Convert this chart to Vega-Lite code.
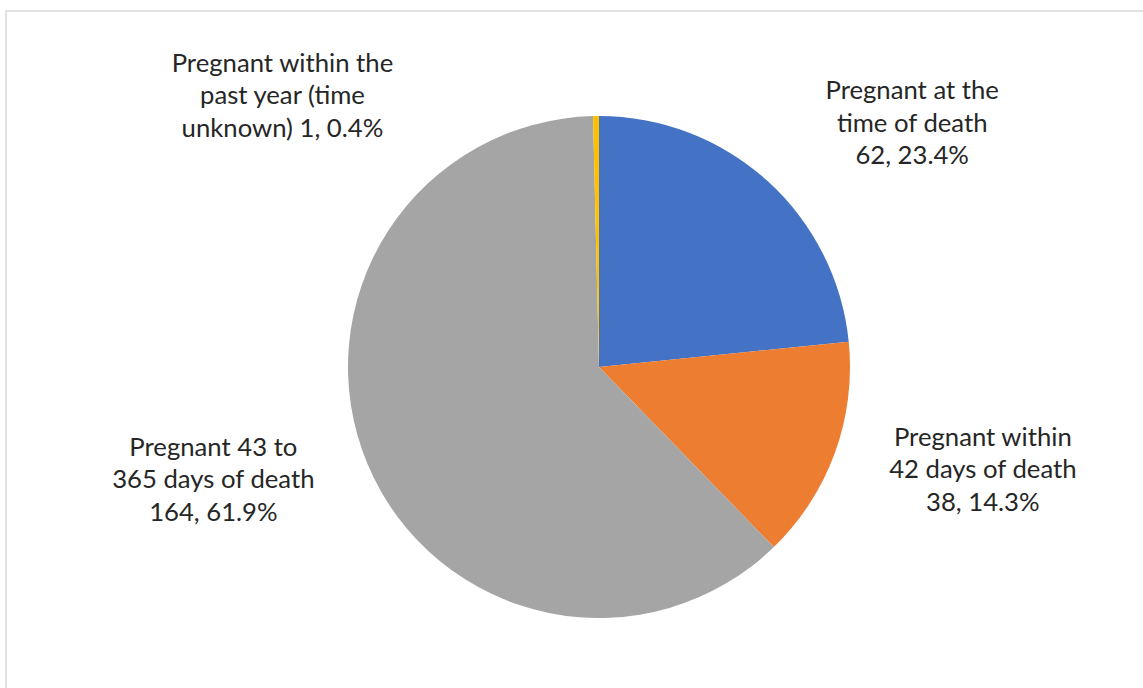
{
  "$schema": "https://vega.github.io/schema/vega-lite/v6.json",
  "width": 1186,
  "height": 712,
  "autosize": {"type": "none"},
  "padding": {"left": 6, "top": 11, "right": 0, "bottom": 0},
  "background": "white",
  "config": {"view": {"stroke": null}},
  "data": {
    "values": [
      {"cat": "Pregnant at the time of death", "count": 62, "pct": 23.4, "order": 1, "label": "Pregnant at the\ntime of death\n62, 23.4%"},
      {"cat": "Pregnant within 42 days of death", "count": 38, "pct": 14.3, "order": 2, "label": "Pregnant within\n42 days of death\n38, 14.3%"},
      {"cat": "Pregnant 43 to 365 days of death", "count": 164, "pct": 61.9, "order": 3, "label": "Pregnant 43 to\n365 days of death\n164, 61.9%"},
      {"cat": "Pregnant within the past year (time unknown)", "count": 1, "pct": 0.4, "order": 4, "label": "Pregnant within the\npast year (time\nunknown) 1, 0.4%"}
    ]
  },
  "layer": [
    {
      "data": {"values": [{"frame": 1}]},
      "mark": {"type": "rect", "filled": false, "stroke": "#D9D9D9", "strokeWidth": 1.5},
      "encoding": {}
    },
    {
      "mark": {"type": "arc", "outerRadius": 251, "stroke": null},
      "encoding": {
        "theta": {"field": "count", "type": "quantitative", "stack": true},
        "order": {"field": "order", "type": "quantitative"},
        "color": {
          "field": "cat",
          "type": "nominal",
          "scale": {
            "domain": ["Pregnant at the time of death", "Pregnant within 42 days of death", "Pregnant 43 to 365 days of death", "Pregnant within the past year (time unknown)"],
            "range": ["#4472C4", "#ED7D31", "#A5A5A5", "#FFC000"]
          },
          "legend": null
        }
      }
    },
    {
      "mark": {"type": "text", "radius": 300, "dx": 112, "dy": -53.5, "align": "center", "baseline": "middle", "lineBreak": "\n", "font": "Lato", "fontSize": 25.7, "lineHeight": 32.7, "color": "#262626"},
      "encoding": {
        "theta": {"field": "count", "type": "quantitative", "stack": true},
        "order": {"field": "order", "type": "quantitative"},
        "text": {"condition": {"test": "datum.order === 1", "field": "label"}, "value": ""}
      }
    },
    {
      "mark": {"type": "text", "radius": 300, "dx": 102, "dy": -32, "align": "center", "baseline": "middle", "lineBreak": "\n", "font": "Lato", "fontSize": 25.7, "lineHeight": 32.7, "color": "#262626"},
      "encoding": {
        "theta": {"field": "count", "type": "quantitative", "stack": true},
        "order": {"field": "order", "type": "quantitative"},
        "text": {"condition": {"test": "datum.order === 2", "field": "label"}, "value": ""}
      }
    },
    {
      "mark": {"type": "text", "radius": 300, "dx": -109, "dy": -35.5, "align": "center", "baseline": "middle", "lineBreak": "\n", "font": "Lato", "fontSize": 25.7, "lineHeight": 32.7, "color": "#262626"},
      "encoding": {
        "theta": {"field": "count", "type": "quantitative", "stack": true},
        "order": {"field": "order", "type": "quantitative"},
        "text": {"condition": {"test": "datum.order === 3", "field": "label"}, "value": ""}
      }
    },
    {
      "mark": {"type": "text", "radius": 300, "dx": -313, "dy": -3.5, "align": "center", "baseline": "middle", "lineBreak": "\n", "font": "Lato", "fontSize": 25.7, "lineHeight": 32.7, "color": "#262626"},
      "encoding": {
        "theta": {"field": "count", "type": "quantitative", "stack": true},
        "order": {"field": "order", "type": "quantitative"},
        "text": {"condition": {"test": "datum.order === 4", "field": "label"}, "value": ""}
      }
    }
  ]
}
